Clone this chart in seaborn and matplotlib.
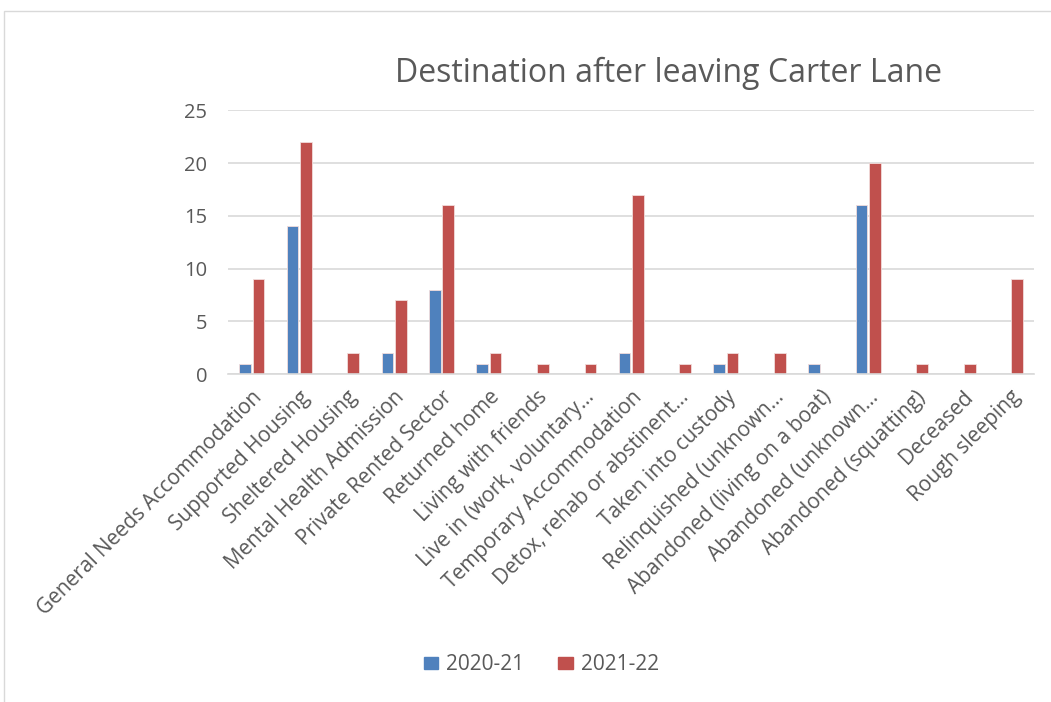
import matplotlib
matplotlib.use("Agg")
import matplotlib.pyplot as plt
import seaborn as sns
import pandas as pd
from matplotlib.patches import Rectangle

categories = [
    "General Needs Accommodation", "Supported Housing", "Sheltered Housing",
    "Mental Health Admission", "Private Rented Sector", "Returned home",
    "Living with friends", "Live in (work, voluntary…", "Temporary Accommodation",
    "Detox, rehab or abstinent…", "Taken into custody", "Relinquished (unknown…",
    "Abandoned (living on a boat)", "Abandoned (unknown…", "Abandoned (squatting)",
    "Deceased", "Rough sleeping",
]
values_2020 = [1, 14, 0, 2, 8, 1, 0, 0, 2, 0, 1, 0, 1, 16, 0, 0, 0]
values_2021 = [9, 22, 2, 7, 16, 2, 1, 1, 17, 1, 2, 2, 0, 20, 1, 1, 9]
series_names = ["2020-21", "2021-22"]
colors = ["#4F81BD", "#C0504D"]

df = pd.DataFrame({
    "Destination": categories * 2,
    "Value": values_2020 + values_2021,
    "Year": [series_names[0]] * len(categories) + [series_names[1]] * len(categories),
})

sns.set_theme(style="white")
plt.rcParams["font.family"] = ["Open Sans", "DejaVu Sans"]
text_color = "#595959"

fig = plt.figure(figsize=(10.51, 7.02), dpi=100)
ax = fig.add_axes([0.217, 0.467, 0.767, 0.376])

sns.barplot(data=df, x="Destination", y="Value", hue="Year", palette=colors,
            order=categories, hue_order=series_names, width=0.56, gap=0.12,
            ax=ax, legend=False, saturation=1, edgecolor="#F2DCDB", linewidth=0.6)

ax.set_ylim(0, 25)
ax.set_yticks([0, 5, 10, 15, 20, 25])
ax.yaxis.grid(True, color="#D9D9D9", linewidth=1.2)
ax.set_axisbelow(True)
for s in ["top", "right", "left"]:
    ax.spines[s].set_visible(False)
ax.spines["bottom"].set_color("#D9D9D9")
ax.spines["bottom"].set_linewidth(1.2)
ax.set_xlabel("")
ax.set_ylabel("")
ax.tick_params(axis="y", labelsize=14.5, colors=text_color, length=0, pad=15)
ax.tick_params(axis="x", labelsize=15, colors=text_color, length=0, pad=9)
plt.setp(ax.get_xticklabels(), rotation=45, ha="right", rotation_mode="anchor")
ax.set_xlim(-0.5, len(categories) - 0.5)

fig.text(0.636, 0.895, "Destination after leaving Carter Lane", ha="center", va="center",
         fontsize=23, color=text_color)

handles = [Rectangle((0, 0), 1, 1, color=c) for c in colors]
fig.legend(handles, series_names, loc="center", bbox_to_anchor=(0.515, 0.053), ncol=2,
           frameon=False, fontsize=15, labelcolor=text_color, handlelength=0.7,
           handleheight=0.5, columnspacing=1.6, handletextpad=0.4)

fig.patches.append(Rectangle((0.004, -0.01), 1.1, 0.995, transform=fig.transFigure,
                             fill=False, edgecolor="#D9D9D9", linewidth=1))

fig.savefig("out.png", dpi=100)
